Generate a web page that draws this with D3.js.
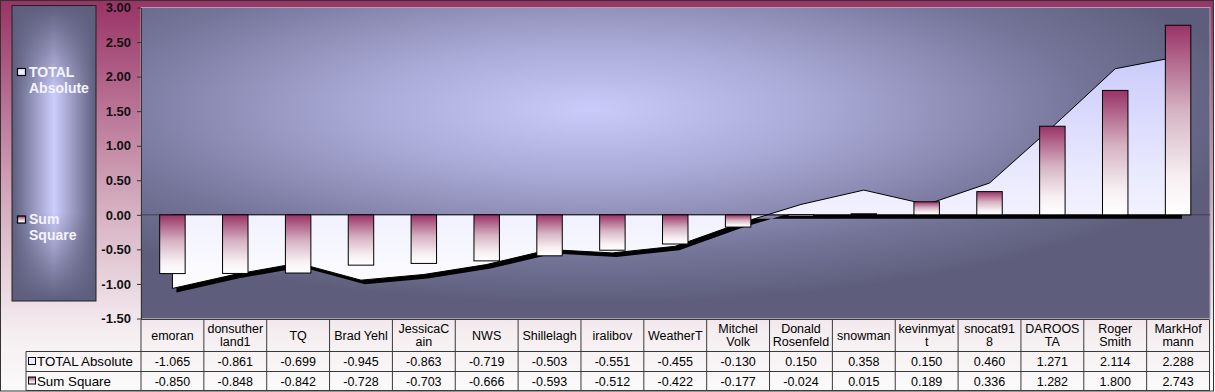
<!DOCTYPE html>
<html>
<head>
<meta charset="utf-8">
<script src="https://cdn.jsdelivr.net/npm/d3@7"></script>
<style>
  html, body { margin: 0; padding: 0; background: #ffffff; }
  svg { display: block; font-family: "Liberation Sans", Arial, sans-serif; }
</style>
</head>
<body>
<svg id="chart" width="1215" height="392"></svg>
<script>
// ---- data ----
const categories = ["emoran", "donsutherland1", "TQ", "Brad Yehl", "JessicaCain", "NWS", "Shillelagh",
  "iralibov", "WeatherT", "Mitchel Volk", "Donald Rosenfeld", "snowman", "kevinmyatt", "snocat918",
  "DAROOSTA", "Roger Smith", "MarkHofmann"];
const categoryLabelLines = [["emoran"], ["donsuther", "land1"], ["TQ"], ["Brad Yehl"], ["JessicaC", "ain"],
  ["NWS"], ["Shillelagh"], ["iralibov"], ["WeatherT"], ["Mitchel", "Volk"], ["Donald", "Rosenfeld"],
  ["snowman"], ["kevinmyat", "t"], ["snocat91", "8"], ["DAROOS", "TA"], ["Roger", "Smith"], ["MarkHof", "mann"]];
const totalAbsolute = [-1.065, -0.861, -0.699, -0.945, -0.863, -0.719, -0.503, -0.551, -0.455, -0.130,
  0.150, 0.358, 0.150, 0.460, 1.271, 2.114, 2.288];
const sumSquare = [-0.850, -0.848, -0.842, -0.728, -0.703, -0.666, -0.593, -0.512, -0.422, -0.177,
  -0.024, 0.015, 0.189, 0.336, 1.282, 1.800, 2.743];
const seriesNames = ["TOTAL Absolute", "Sum Square"];
const yTicks = [3.0, 2.5, 2.0, 1.5, 1.0, 0.5, 0.0, -0.5, -1.0, -1.5];

// ---- layout ----
const W = 1215, H = 392;
const plot = { left: 141, right: 1210, top: 7.5, bottom: 318.5 };
const tableRight = 1209.5;
const svg = d3.select("#chart");
const defs = svg.append("defs");

function linGrad(id, x1, y1, x2, y2, stops, units) {
  const g = defs.append("linearGradient").attr("id", id)
    .attr("x1", x1).attr("y1", y1).attr("x2", x2).attr("y2", y2);
  if (units) g.attr("gradientUnits", units);
  stops.forEach(s => g.append("stop").attr("offset", s[0]).attr("stop-color", s[1])
    .attr("stop-opacity", s[2] === undefined ? 1 : s[2]));
  return g;
}
// chart background
linGrad("bgGrad", 0, 0, 0, 1, [[0, "#993366"], [0.5, "#d2a8bb"], [0.85, "#f5eef1"], [1, "#fbfafa"]]);
// plot background (radial)
const rg = defs.append("radialGradient").attr("id", "plotGrad")
  .attr("cx", 0.42).attr("cy", 0.33).attr("r", 0.62).attr("fx", 0.42).attr("fy", 0.33);
[[0, "#cbcbfb"], [0.35, "#a9a9d6"], [0.75, "#75759a"], [1, "#5e5e7c"]].forEach(s =>
  rg.append("stop").attr("offset", s[0]).attr("stop-color", s[1]));
// legend
linGrad("legH", 0, 0, 1, 0, [[0, "#5d5d7c"], [0.5, "#cdcdfd"], [1, "#5d5d7c"]]);
linGrad("legV", 0, 0, 0, 1, [[0, "#5d5d7c", 1], [0.3, "#5d5d7c", 0], [0.7, "#5d5d7c", 0], [1, "#5d5d7c", 1]]);
// bars
linGrad("barGrad", 0, 0, 0, 1, [[0, "#993366"], [0.45, "#d6b3c3"], [0.8, "#f7eff2"], [1, "#ffffff"]]);
// area
linGrad("areaGrad", 0, 40, 0, 300, [[0, "#c6c6fa"], [0.55, "#ececff"], [1, "#ffffff"]], "userSpaceOnUse");

// chart background & border
svg.append("rect").attr("x", 0.5).attr("y", 0.5).attr("width", W - 2).attr("height", H - 1.5)
  .attr("fill", "url(#bgGrad)").attr("stroke", "#333").attr("stroke-width", 1);

// ---- scales ----
const x = d3.scaleBand().domain(categories).range([plot.left, tableRight]).padding(0);
const y = d3.scaleLinear().domain([-1.5, 3]).range([plot.bottom, plot.top]);
const bw = x.bandwidth() * 0.405;
const cx = d => x(d) + x.bandwidth() / 2;

// plot area
svg.append("rect").attr("x", plot.left).attr("y", plot.top)
  .attr("width", plot.right - plot.left).attr("height", plot.bottom - plot.top)
  .attr("fill", "url(#plotGrad)").attr("stroke", "#a4a4b2").attr("stroke-width", 1);

// zero line (category axis)
svg.append("line").attr("x1", plot.left).attr("x2", plot.right)
  .attr("y1", y(0)).attr("y2", y(0)).attr("stroke", "#404050").attr("stroke-width", 1);

// area series with drop shadow
const areaData = categories.map((c, i) => ({ c, v: totalAbsolute[i] }));
const area = d3.area().x(d => cx(d.c)).y0(y(0)).y1(d => y(d.v));
svg.append("path").datum(areaData).attr("d", area).attr("fill", "#000")
  .attr("transform", "translate(4,4)");
svg.append("path").datum(areaData).attr("d", area).attr("fill", "url(#areaGrad)")
  .attr("stroke", "#000").attr("stroke-width", 1).attr("stroke-linejoin", "round");

// bars
svg.append("g").selectAll("rect").data(categories).join("rect")
  .attr("x", d => cx(d) - bw / 2)
  .attr("y", (d, i) => Math.min(y(0), y(sumSquare[i])))
  .attr("width", bw)
  .attr("height", (d, i) => Math.abs(y(sumSquare[i]) - y(0)))
  .attr("fill", "url(#barGrad)").attr("stroke", "#000").attr("stroke-width", 1);

// y axis
const yAxis = svg.append("g").attr("transform", `translate(${plot.left},0)`)
  .call(d3.axisLeft(y).tickValues(yTicks).tickFormat(d => d.toFixed(2)).tickSize(4).tickSizeOuter(0).tickPadding(6));
yAxis.select(".domain").attr("stroke", "#333");
yAxis.selectAll(".tick line").attr("stroke", "#333");
yAxis.selectAll(".tick text").attr("font-size", "13px").attr("font-weight", "bold")
  .attr("fill", "#111").attr("font-family", "'Liberation Sans', Arial, sans-serif");

// legend
const leg = { x: 12, y: 5.5, w: 84, h: 295.5 };
svg.append("rect").attr("x", leg.x).attr("y", leg.y).attr("width", leg.w).attr("height", leg.h)
  .attr("fill", "url(#legH)");
svg.append("rect").attr("x", leg.x).attr("y", leg.y).attr("width", leg.w).attr("height", leg.h)
  .attr("fill", "url(#legV)").attr("stroke", "#222").attr("stroke-width", 1);
const legendItems = [
  { lines: ["TOTAL", "Absolute"], sy: 68.5, ty: 76.5, fill: "#ececff" },
  { lines: ["Sum", "Square"], sy: 216, ty: 224, fill: "url(#barGrad)" }
];
legendItems.forEach(it => {
  svg.append("rect").attr("x", 17.5).attr("y", it.sy).attr("width", 8).attr("height", 7)
    .attr("fill", it.fill).attr("stroke", "#000").attr("stroke-width", 1.2);
  const t = svg.append("text").attr("x", 29).attr("y", it.ty).attr("fill", "#f4f4ff")
    .attr("font-size", "14px").attr("font-weight", "bold");
  it.lines.forEach((l, k) => t.append("tspan").attr("x", 29).attr("dy", k === 0 ? 0 : 16).text(l));
});

// ---- data table ----
const rows = { top: 319.5, hdrBottom: 351.5, r1Bottom: 371.5, bottom: 390.5 };
const keyLeft = 26;
const tg = svg.append("g").attr("stroke", "#3a3a3a").attr("stroke-width", 1);
tg.append("line").attr("x1", plot.left).attr("x2", tableRight).attr("y1", rows.top).attr("y2", rows.top);
[rows.hdrBottom, rows.r1Bottom, rows.bottom].forEach(yy =>
  tg.append("line").attr("x1", keyLeft).attr("x2", tableRight).attr("y1", yy).attr("y2", yy));
categories.forEach(c => tg.append("line").attr("x1", x(c)).attr("x2", x(c)).attr("y1", rows.top).attr("y2", rows.bottom));
tg.append("line").attr("x1", tableRight).attr("x2", tableRight).attr("y1", rows.top).attr("y2", rows.bottom);
tg.append("line").attr("x1", keyLeft).attr("x2", keyLeft).attr("y1", rows.hdrBottom).attr("y2", rows.bottom);

const tt = svg.append("g").attr("font-size", "12.5px").attr("fill", "#000").attr("text-anchor", "middle");
categoryLabelLines.forEach((lines, i) => {
  const c = categories[i];
  if (lines.length === 1) {
    tt.append("text").attr("x", cx(c)).attr("y", 340).text(lines[0]);
  } else {
    lines.forEach((l, k) => tt.append("text").attr("x", cx(c)).attr("y", 332.5 + k * 13.5).text(l));
  }
});
const rowVals = [totalAbsolute, sumSquare];
const rowBase = [366, 385.5];
rowVals.forEach((vals, r) => {
  vals.forEach((v, i) => tt.append("text").attr("x", cx(categories[i])).attr("y", rowBase[r]).text(v.toFixed(3)));
  svg.append("rect").attr("x", 28.5).attr("y", rowBase[r] - 8.5).attr("width", 7).attr("height", 7)
    .attr("fill", r === 0 ? "#ececff" : "url(#barGrad)").attr("stroke", "#000").attr("stroke-width", 1);
  svg.append("text").attr("x", 37).attr("y", rowBase[r]).attr("font-size", "13.3px").attr("fill", "#000")
    .text(seriesNames[r]);
});
</script>
</body>
</html>
